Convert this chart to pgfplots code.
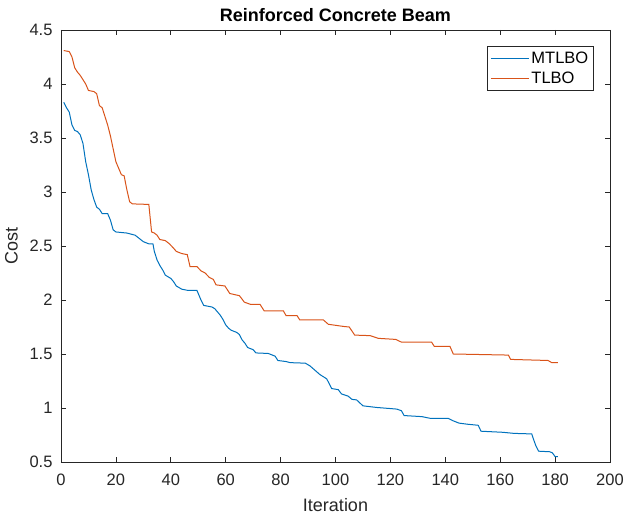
\documentclass[border=0pt]{standalone}
\usepackage{fontspec}
\setmainfont{Liberation Sans}
\usepackage{pgfplots}
\pgfplotsset{compat=1.18}
\definecolor{mblue}{rgb}{0,0.447,0.741}
\definecolor{morange}{rgb}{0.851,0.325,0.098}
\definecolor{axgray}{rgb}{0.15,0.15,0.15}
\begin{document}
\begin{tikzpicture}
\begin{axis}[
  scale only axis,
  width=549bp, height=432bp,
  xmin=0, xmax=200, ymin=0.5, ymax=4.5,
  xtick={0,20,...,200},
  ytick={0.5,1,...,4.5},
  /pgf/number format/assume math mode=true,
  yticklabel style={/pgf/number format/fixed},
  tick label style={font=\fontsize{16.5bp}{18bp}\selectfont, text=axgray},
  xticklabel style={yshift=-8bp},
  yticklabel style={xshift=-5bp},
  axis line style={axgray, line width=0.6bp},
  tick style={axgray, line width=0.6bp},
  tick align=inside,
  major tick length=5.5bp,
  xlabel={Iteration}, ylabel={Cost},
  label style={font=\fontsize{18bp}{20bp}\selectfont, text=axgray},
  xlabel style={yshift=-6bp},
  ylabel style={yshift=5bp},
  title={\textbf{Reinforced Concrete Beam}},
  title style={font=\fontsize{18bp}{20bp}\selectfont, yshift=-1bp},
  legend style={at={(0.97,0.963)}, anchor=north east, draw=axgray, line width=0.5bp,
    font=\fontsize{16.5bp}{18bp}\selectfont, inner xsep=3bp, inner ysep=4bp, row sep=2.5bp},
  legend cell align=left,
  legend image code/.code={\draw[#1, line width=1bp] (0bp,0bp) -- (38bp,0bp);},
  every axis plot/.append style={line width=1bp},
]
\addplot[mblue] coordinates {
(1,3.83)(2,3.78)(3,3.74)(4,3.62)(5,3.57)(6,3.56)(7,3.53)(8,3.45)(9,3.28)(10,3.16)
(11,3.02)(12,2.93)(13,2.86)(14,2.84)(15,2.80)(17,2.80)(18,2.74)(19,2.65)(20,2.63)
(22,2.625)(24,2.62)(27,2.60)(28,2.58)(30,2.54)(32,2.52)(33.5,2.52)(34,2.45)(35,2.37)
(36,2.32)(37,2.28)(38,2.23)(40,2.20)(41,2.17)(42,2.13)(44,2.10)(46,2.09)(49.5,2.09)
(51,2.00)(52,1.95)(55,1.935)(56,1.92)(57,1.89)(58,1.86)(59,1.82)(60,1.77)(61,1.74)
(62,1.72)(64,1.70)(65,1.68)(66,1.63)(67,1.60)(68,1.56)(70,1.54)(71,1.51)(75.5,1.505)
(78,1.48)(79,1.44)(82,1.43)(83.5,1.42)(89,1.415)(90.7,1.39)(92.5,1.35)(94.3,1.31)
(96.8,1.27)(98.6,1.18)(101,1.17)(102.2,1.13)(104.6,1.11)(106,1.08)(107.7,1.075)
(110,1.02)(115,1.005)(122.3,0.99)(124,0.975)(125,0.93)(131.5,0.92)(134.4,0.905)
(141,0.905)(143,0.88)(145,0.86)(148,0.85)(152,0.84)(153,0.785)(161,0.775)(165,0.765)
(171.5,0.76)(172,0.72)(173,0.65)(174,0.60)(178,0.595)(179,0.585)(180,0.55)(181,0.55)
};
\addlegendentry{MTLBO}
\addplot[morange] coordinates {
(1,4.31)(2,4.305)(3,4.30)(4,4.25)(5,4.15)(6,4.11)(7,4.08)(8,4.04)(9,4.00)(10,3.94)
(12,3.93)(13,3.91)(14,3.80)(15,3.78)(16,3.70)(17,3.62)(18,3.52)(19,3.40)(20,3.28)
(21,3.22)(22,3.16)(23,3.15)(24,3.02)(25,2.91)(26,2.89)(32,2.885)(33,2.63)(34,2.62)
(35,2.60)(36,2.56)(38,2.55)(39.5,2.52)(41,2.48)(42,2.45)(44,2.43)(46,2.42)(47,2.31)
(49.5,2.31)(51,2.27)(52.5,2.25)(54,2.21)(55.5,2.19)(56.5,2.14)(59.7,2.13)(61.5,2.06)
(65,2.04)(66.8,1.98)(69,1.96)(72.5,1.96)(74,1.90)(81,1.90)(82,1.855)(86,1.855)
(87,1.815)(95.6,1.815)(97.4,1.775)(103,1.755)(105,1.75)(107,1.675)(112.6,1.67)
(115.6,1.645)(122,1.635)(124,1.61)(135,1.61)(136,1.57)(141.7,1.57)(142.9,1.50)
(163,1.49)(163.8,1.45)(177.4,1.44)(178.8,1.42)(181,1.42)
};
\addlegendentry{TLBO}
\end{axis}
\pgfresetboundingbox
\path ([xshift=-61bp,yshift=-56bp]current axis.south west) rectangle ([xshift=15bp,yshift=30bp]current axis.north east);
\end{tikzpicture}
\end{document}
